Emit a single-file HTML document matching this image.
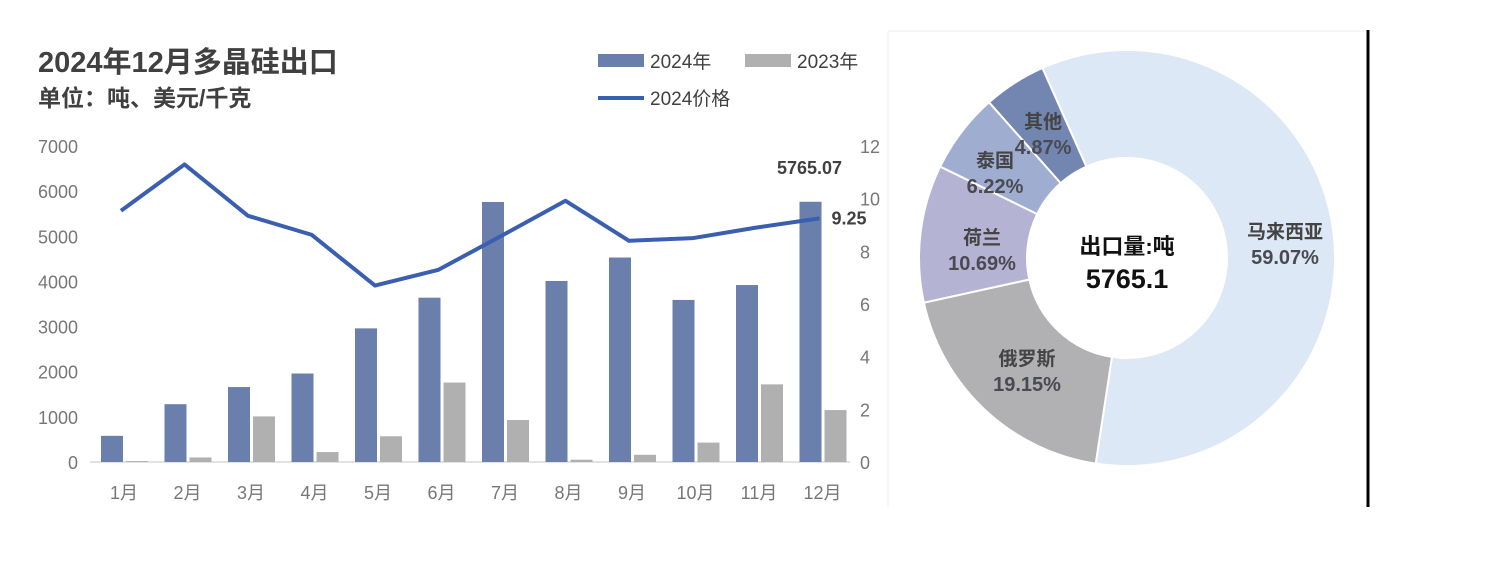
<!DOCTYPE html>
<html><head><meta charset="utf-8">
<style>
body{margin:0;background:#fff;width:1489px;height:579px;overflow:hidden;font-family:"Liberation Sans","Noto Sans CJK SC",sans-serif;}
svg{position:absolute;left:0;top:0}
</style></head>
<body>
<svg width="1489" height="579">
<g id="left"></g>
<g id="right"></g>
</svg>
<script>
const months=["1月","2月","3月","4月","5月","6月","7月","8月","9月","10月","11月","12月"];
const vol2024=[580,1280,1660,1960,2960,3640,5760,4010,4530,3590,3920,5765];
const vol2023=[20,100,1010,220,570,1760,930,50,160,430,1720,1150];
const price2024=[9.54,11.3,9.35,8.63,6.7,7.3,8.6,9.92,8.4,8.5,8.9,9.25];
const leftTicks=[0,1000,2000,3000,4000,5000,6000,7000];
const rightTicks=[0,2,4,6,8,10,12];
const shareNames=["马来西亚","俄罗斯","荷兰","泰国","其他"];
const shareValues=[59.07,19.15,10.69,6.22,4.87];
const shareColors=["#dce8f6","#b1b1b3","#b4b3d3","#9fadd1","#7386b1"];
const NS="http://www.w3.org/2000/svg";
function mk(tag,attrs,parent,text){const e=document.createElementNS(NS,tag);for(const k in attrs)e.setAttribute(k,attrs[k]);if(text!==undefined)e.textContent=text;parent.appendChild(e);return e;}
const L=document.getElementById('left');
const y0=462,yL=v=>y0-v*(316/7000),yR=v=>y0-v*(316/12);
const xC=i=>121+i*63.5;
let t;
t=mk('text',{x:38,y:72,'font-size':29,'font-weight':'bold',fill:'#404040'},L,"2024年12月多晶硅出口");

t=mk('text',{x:38,y:106,'font-size':23,'font-weight':'bold',fill:'#404040'},L,"单位：吨、美元/千克");

let lg=mk('g',{},L);
mk('rect',{x:598,y:54,width:46,height:13,fill:'#6a7fab'},lg);
mk('text',{x:650,y:68,'font-size':19,fill:'#404040'},lg,"2024年");
mk('rect',{x:745,y:54,width:46,height:13,fill:'#b0b0b0'},lg);
mk('text',{x:797,y:68,'font-size':19,fill:'#404040'},lg,"2023年");
mk('line',{x1:598,y1:98,x2:644,y2:98,stroke:'#3a5fb0','stroke-width':4},lg);
mk('text',{x:650,y:105,'font-size':19,fill:'#404040'},lg,"2024价格");
leftTicks.forEach(v=>{t=mk('text',{x:78,y:yL(v)+7,'font-size':18,fill:'#777','text-anchor':'end'},L,v);
});
rightTicks.forEach(v=>{t=mk('text',{x:860,y:yR(v)+7,'font-size':18,fill:'#777'},L,v);
});
mk('line',{x1:90,y1:y0,x2:850,y2:y0,stroke:'#d8d8d8','stroke-width':1.5},L);
months.forEach((m,i)=>{
 let b=mk('rect',{x:xC(i)-20,y:yL(vol2024[i]),width:22,height:y0-yL(vol2024[i]),fill:'#6a7fab'},L);
 
 b=mk('rect',{x:xC(i)+5,y:yL(vol2023[i]),width:22,height:y0-yL(vol2023[i]),fill:'#b0b0b0'},L);
 
 t=mk('text',{x:xC(i)+3,y:499,'font-size':18,fill:'#777','text-anchor':'middle'},L,m);
 
});
let pl=mk('polyline',{points:price2024.map((v,i)=>xC(i)+','+yR(v)).join(' '),fill:'none',stroke:'#3a5fb0','stroke-width':4,'stroke-linejoin':'round'},L);

t=mk('text',{x:xC(11)-10,y:yL(vol2024[11])-28,'font-size':18,'font-weight':'bold',fill:'#404040','text-anchor':'middle'},L,"5765.07");

t=mk('text',{x:xC(11)+12,y:yR(price2024[11])+6,'font-size':18,'font-weight':'bold',fill:'#404040'},L,price2024[11]);

const R=document.getElementById('right');
mk('line',{x1:888,y1:31,x2:1368,y2:31,stroke:'#eee','stroke-width':1},R);
mk('line',{x1:888,y1:31,x2:888,y2:507,stroke:'#eee','stroke-width':1},R);
let vl=mk('line',{x1:1368,y1:30,x2:1368,y2:507,stroke:'#000','stroke-width':3},R);

const cx=1127,cy=258,ro=208,ri=100;
const tot=shareValues.reduce((a,b)=>a+b,0);
let a=-24*Math.PI/180;
const pt=(r,an)=>[cx+r*Math.sin(an),cy-r*Math.cos(an)];
const labelPos=[[1285,238],[1027,365],[982,244],[995,167],[1043,128]];
shareValues.forEach((v,i)=>{
 const a2=a+v/tot*2*Math.PI,lg2=(a2-a)>Math.PI?1:0;
 const p1=pt(ro,a),p2=pt(ro,a2),p3=pt(ri,a2),p4=pt(ri,a);
 const d=`M${p1} A${ro},${ro} 0 ${lg2} 1 ${p2} L${p3} A${ri},${ri} 0 ${lg2} 0 ${p4} Z`;
 let s=mk('path',{d:d,fill:shareColors[i],stroke:'#fff','stroke-width':2},R);
 
 a=a2;
});
shareValues.forEach((v,i)=>{
 const [lx,ly]=labelPos[i];
 t=mk('text',{x:lx,y:ly,'font-size':19,'font-weight':'bold',fill:'#444','text-anchor':'middle'},R,shareNames[i]);
 
 t=mk('text',{x:lx,y:ly+26,'font-size':20,'font-weight':'bold',fill:'#4a4a52','text-anchor':'middle'},R,v.toFixed(2)+"%");
 
});
t=mk('text',{x:1127,y:254,'font-size':22,'font-weight':'bold',fill:'#111','text-anchor':'middle'},R,"出口量:吨");

t=mk('text',{x:1127,y:288,'font-size':27,'font-weight':'bold',fill:'#111','text-anchor':'middle'},R,"5765.1");

</script>
</body></html>
